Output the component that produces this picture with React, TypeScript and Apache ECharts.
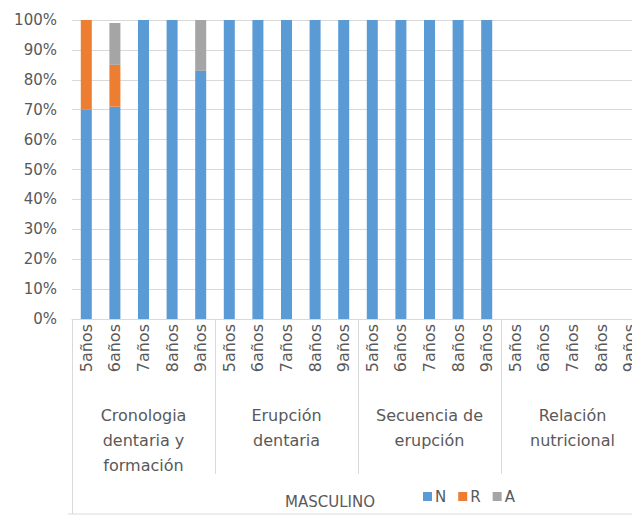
import React, { useEffect, useRef } from "react";
import * as echarts from "echarts";

const ages = ["5años", "6años", "7años", "8años", "9años"];
const groups = [
  "Cronologia\ndentaria y\nformación",
  "Erupción\ndentaria",
  "Secuencia de\nerupción",
  "Relación\nnutricional",
];
const categories = [...ages, ...ages, ...ages, ...ages];
const sexLabel = "MASCULINO";

const nValues = [70, 71, 100, 100, 83, 100, 100, 100, 100, 100, 100, 100, 100, 100, 100, 0, 0, 0, 0, 0];
const rValues = [30, 14, 0, 0, 0, 0, 0, 0, 0, 0, 0, 0, 0, 0, 0, 0, 0, 0, 0, 0];
const aValues = [0, 14, 0, 0, 17, 0, 0, 0, 0, 0, 0, 0, 0, 0, 0, 0, 0, 0, 0, 0];
const yTicks = [0, 10, 20, 30, 40, 50, 60, 70, 80, 90, 100];

const FONT = "DejaVu Sans";
const TXT = "#595959";
const GRID = "#D9D9D9";

export default function App() {
  const ref = useRef<HTMLDivElement>(null);
  useEffect(() => {
    if (!ref.current) return;
    const chart = echarts.init(ref.current, undefined, { renderer: "svg" });
    chart.setOption({
      animation: false,
      backgroundColor: "#ffffff",
      textStyle: { fontFamily: FONT, color: TXT },
      grid: {
        left: 72,
        top: 20,
        bottom: 197,
        width: 572,
        containLabel: false,
        outerBoundsMode: "none",
      },
      legend: {
        data: ["N", "R", "A"],
        left: 418,
        top: 484,
        icon: "rect",
        itemWidth: 9,
        itemHeight: 9,
        itemGap: 12,
        textStyle: { fontFamily: FONT, fontSize: 15, color: TXT, padding: [0, 0, 0, -2] },
      },
      xAxis: [
        {
          type: "category",
          position: "bottom",
          data: categories,
          axisLine: { show: true, lineStyle: { color: GRID } },
          axisTick: { show: false },
          axisLabel: {
            rotate: 90,
            interval: 0,
            margin: 5,
            fontFamily: FONT,
            fontSize: 16,
            color: TXT,
          },
        },
        {
          type: "category",
          position: "bottom",
          data: groups,
          axisLine: { show: false },
          axisTick: { show: true, interval: 0, length: 155, lineStyle: { color: GRID } },
          axisLabel: {
            interval: 0,
            margin: 84,
            fontFamily: FONT,
            fontSize: 16,
            lineHeight: 25,
            color: TXT,
          },
        },
        {
          type: "category",
          position: "bottom",
          data: [sexLabel],
          axisLine: { show: false },
          axisTick: { show: true, interval: 0, length: 195, lineStyle: { color: GRID } },
          axisLabel: { show: false },
        },
      ],
      yAxis: {
        type: "value",
        min: 0,
        max: 100,
        interval: 10,
        axisLine: { show: false },
        axisTick: { show: false },
        splitLine: { lineStyle: { color: GRID } },
        axisLabel: {
          margin: 15,
          fontFamily: FONT,
          fontSize: 15,
          color: TXT,
          formatter: (v: number) => (yTicks.includes(v) ? `${v}%` : ""),
        },
      },
      graphic: [
        {
          type: "line",
          shape: { x1: 68, y1: 514, x2: 632, y2: 514 },
          style: { stroke: GRID, lineWidth: 1 },
        },
        {
          type: "text",
          x: 330,
          y: 502,
          style: {
            text: sexLabel,
            fontFamily: FONT,
            fontSize: 15,
            fill: TXT,
            textAlign: "center",
            textVerticalAlign: "middle",
          },
        },
      ],
      series: [
        { name: "N", type: "bar", stack: "total", data: nValues, barWidth: 11, itemStyle: { color: "#5B9BD5" } },
        { name: "R", type: "bar", stack: "total", data: rValues, barWidth: 11, itemStyle: { color: "#ED7D31" } },
        { name: "A", type: "bar", stack: "total", data: aValues, barWidth: 11, itemStyle: { color: "#A5A5A5" } },
      ],
    });
    return () => chart.dispose();
  }, []);
  return (
    <div
      ref={ref}
      style={{ position: "fixed", left: 0, top: 0, width: 632, height: 516 }}
    />
  );
}
